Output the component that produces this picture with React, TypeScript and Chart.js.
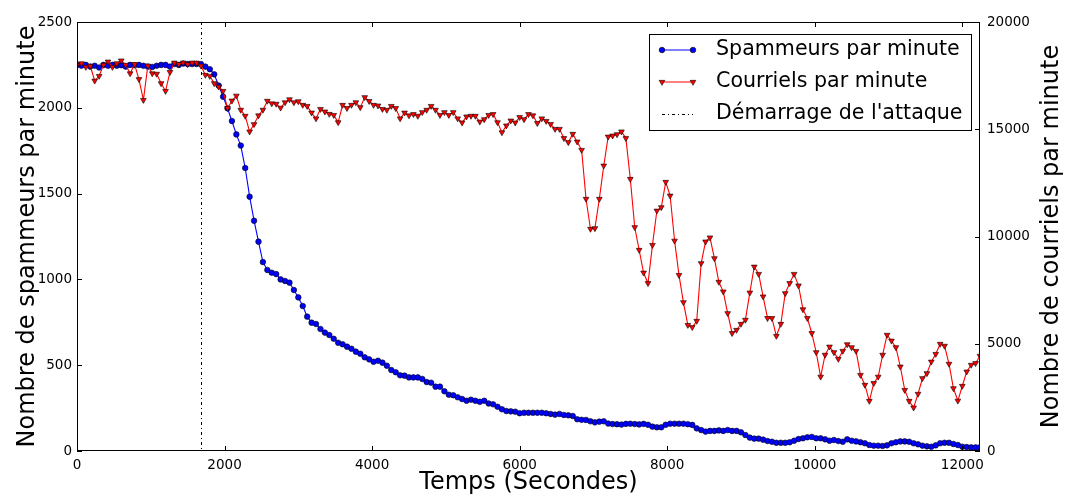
import React, { useEffect, useRef } from 'react';
import { Chart, registerables } from 'chart.js';

Chart.register(...registerables);

// ---- Data -----------------------------------------------------------------
const SAMPLE_INTERVAL_S = 60; // one sample per minute
const ATTACK_START_S = 1680;
const X_MAX = 12240;

const X_TICKS = [0, 2000, 4000, 6000, 8000, 10000, 12000];
const Y_LEFT_TICKS = [0, 500, 1000, 1500, 2000, 2500];
const Y_RIGHT_TICKS = [0, 5000, 10000, 15000, 20000];

const SERIES_LABELS = ['Spammeurs par minute', 'Courriels par minute', "Démarrage de l'attaque"];

// Spammers per minute (left axis)
const SPAMMERS = [
  2250, 2245, 2250, 2240, 2245, 2235, 2250, 2245, 2250, 2245,
  2248, 2240, 2250, 2248, 2250, 2245, 2240, 2238, 2245, 2250,
  2250, 2240, 2255, 2250, 2258, 2255, 2255, 2255, 2255, 2240,
  2225, 2195, 2130, 2065, 1997, 1923, 1845, 1780, 1649, 1482,
  1342, 1220, 1101, 1055, 1039, 1031, 1000, 991, 981, 938,
  895, 845, 783, 748, 740, 711, 690, 676, 654, 631,
  622, 608, 596, 579, 567, 546, 534, 520, 526, 515,
  497, 472, 459, 441, 439, 429, 429, 429, 420, 402,
  398, 375, 375, 348, 328, 325, 313, 303, 293, 299,
  293, 287, 293, 277, 272, 258, 243, 233, 231, 229,
  220, 223, 223, 223, 223, 223, 220, 216, 212, 216,
  210, 208, 204, 185, 182, 181, 173, 167, 171, 173,
  160, 157, 156, 154, 158, 159, 157, 155, 158, 153,
  142, 138, 138, 153, 159, 159, 159, 159, 156, 152,
  132, 122, 113, 117, 117, 120, 117, 122, 117, 117,
  109, 93, 78, 72, 72, 66, 58, 54, 48, 48,
  48, 51, 60, 70, 74, 80, 82, 74, 74, 68,
  60, 64, 58, 54, 68, 60, 56, 51, 45, 35,
  31, 31, 29, 33, 45, 51, 56, 56, 54, 45,
  39, 31, 27, 25, 33, 45, 48, 48, 41, 35,
  25, 23, 21, 21, 21,
];

// E-mails per minute (right axis)
const EMAILS = [
  18000, 18070, 17900, 17950, 17260, 17480, 18000, 18150, 17900, 18070,
  18200, 18000, 17600, 18030, 17330, 16360, 17960, 17600, 17580, 17140,
  16780, 17660, 18100, 18030, 18100, 18030, 18100, 18100, 17960, 17530,
  17480, 17140, 16980, 16780, 15980, 16330, 16560, 15900, 15620, 14890,
  15230, 15640, 15900, 16320, 16200, 16180, 16000, 16250, 16390, 16250,
  16300, 16130, 16080, 15770, 15500, 15940, 15820, 15710, 15660, 15320,
  16130, 15980, 16130, 16250, 16020, 16490, 16310, 16130, 16100, 15940,
  15900, 16080, 15980, 15500, 15770, 15640, 15700, 15620, 15790, 15900,
  16080, 15900, 15660, 15790, 15660, 15790, 15500, 15310, 15590, 15620,
  15620, 15350, 15460, 15660, 15700, 15320, 14850, 15170, 15400, 15310,
  15560, 15460, 15700, 15640, 15280, 15500, 15380, 15240, 15010, 15010,
  14580, 14390, 14780, 14420, 14030, 11750, 10350, 10380, 11750, 13300,
  14650, 14700, 14760, 14890, 14580, 12680, 10430, 9370, 8310, 7820,
  9600, 11200, 11360, 12540, 11900, 9800, 8200, 6930, 5870, 5770,
  6060, 8750, 9760, 9950, 8980, 7880, 7430, 6420, 5490, 5640,
  5920, 6110, 7380, 8590, 8250, 7200, 6190, 6190, 5360, 5920,
  7350, 7820, 8250, 7710, 6600, 6190, 5490, 4600, 3460, 4480,
  4860, 4600, 4290, 4660, 4970, 4830, 4660, 3540, 3080, 2330,
  3160, 3460, 4480, 5410, 5140, 4830, 3930, 2840, 2330, 2020,
  2660, 3390, 3620, 4160, 4520, 4990, 4900, 4060, 2920, 2340,
  3030, 3700, 4010, 4090, 4430,
];

const TIMES = SPAMMERS.map((_, i) => i * SAMPLE_INTERVAL_S);

// ---- Styles ---------------------------------------------------------------
const FONT = '"DejaVu Sans", sans-serif';
const BLUE = '#0000ff';
const RED = '#ff0000';
const DASHDOT = [3, 3, 1, 3];
const CIRCLE_R = 2.8;
const TRI_R = 3.3;

function drawCircle(ctx: CanvasRenderingContext2D, x: number, y: number, r: number) {
  ctx.beginPath();
  ctx.arc(x, y, r, 0, Math.PI * 2);
  ctx.fillStyle = BLUE;
  ctx.fill();
  ctx.lineWidth = 0.6;
  ctx.strokeStyle = '#000';
  ctx.stroke();
}

function drawTriangleDown(ctx: CanvasRenderingContext2D, x: number, y: number, r: number) {
  let rad = Math.PI;
  ctx.beginPath();
  ctx.moveTo(x + Math.sin(rad) * r, y - Math.cos(rad) * r);
  rad += (2 * Math.PI) / 3;
  ctx.lineTo(x + Math.sin(rad) * r, y - Math.cos(rad) * r);
  rad += (2 * Math.PI) / 3;
  ctx.lineTo(x + Math.sin(rad) * r, y - Math.cos(rad) * r);
  ctx.closePath();
  ctx.fillStyle = RED;
  ctx.fill();
  ctx.lineWidth = 0.6;
  ctx.strokeStyle = '#000';
  ctx.stroke();
}

const attackLinePlugin = {
  id: 'attackLine',
  beforeDatasetsDraw(chart: any) {
    const { ctx, chartArea, scales } = chart;
    const x = Math.round(scales.x.getPixelForValue(ATTACK_START_S)) + 0.5;
    ctx.save();
    ctx.strokeStyle = '#000';
    ctx.lineWidth = 1;
    ctx.setLineDash(DASHDOT);
    ctx.beginPath();
    ctx.moveTo(x, chartArea.top);
    ctx.lineTo(x, chartArea.bottom);
    ctx.stroke();
    ctx.restore();
  },
};

const framePlugin = {
  id: 'frame',
  afterDraw(chart: any) {
    const { ctx, chartArea, scales } = chart;
    const { left, right, top, bottom } = chartArea;
    const TL = 5;
    ctx.save();
    ctx.strokeStyle = '#000';
    ctx.lineWidth = 1;
    ctx.setLineDash([]);
    // frame
    ctx.strokeRect(left + 0.5, top + 0.5, right - left - 1, bottom - top - 1);
    // ticks
    ctx.beginPath();
    for (const v of X_TICKS) {
      const px = Math.round(scales.x.getPixelForValue(v)) + 0.5;
      ctx.moveTo(px, bottom);
      ctx.lineTo(px, bottom - TL);
      ctx.moveTo(px, top);
      ctx.lineTo(px, top + TL);
    }
    for (const v of Y_LEFT_TICKS) {
      const py = Math.round(scales.y.getPixelForValue(v)) + 0.5;
      ctx.moveTo(left, py);
      ctx.lineTo(left + TL, py);
    }
    for (const v of Y_RIGHT_TICKS) {
      const py = Math.round(scales.y1.getPixelForValue(v)) + 0.5;
      ctx.moveTo(right, py);
      ctx.lineTo(right - TL, py);
    }
    ctx.stroke();

    // axis titles
    ctx.fillStyle = '#000';
    ctx.font = `24px ${FONT}`;
    ctx.textAlign = 'center';
    ctx.textBaseline = 'alphabetic';
    ctx.fillText('Temps (Secondes)', (left + right) / 2, 489);
    const midY = (top + bottom) / 2;
    ctx.save();
    ctx.translate(34, midY);
    ctx.rotate(-Math.PI / 2);
    ctx.fillText('Nombre de spammeurs par minute', 0, 0);
    ctx.restore();
    ctx.save();
    ctx.translate(1058, midY);
    ctx.rotate(-Math.PI / 2);
    ctx.fillText('Nombre de courriels par minute', 0, 0);
    ctx.restore();

    // legend
    const bx = 649.5, by = 34.5, bw = 322, bh = 96;
    ctx.fillStyle = '#fff';
    ctx.fillRect(bx, by, bw, bh);
    ctx.strokeStyle = '#000';
    ctx.lineWidth = 1;
    ctx.strokeRect(bx, by, bw, bh);
    const x0 = 662, x1 = 693;
    const rows = [50, 82, 114];
    // row 1
    ctx.strokeStyle = BLUE;
    ctx.beginPath();
    ctx.moveTo(x0, rows[0]);
    ctx.lineTo(x1, rows[0]);
    ctx.stroke();
    drawCircle(ctx, x0, rows[0], CIRCLE_R);
    drawCircle(ctx, x1, rows[0], CIRCLE_R);
    // row 2
    ctx.strokeStyle = RED;
    ctx.lineWidth = 1;
    ctx.beginPath();
    ctx.moveTo(x0, rows[1]);
    ctx.lineTo(x1, rows[1]);
    ctx.stroke();
    drawTriangleDown(ctx, x0, rows[1], TRI_R);
    drawTriangleDown(ctx, x1, rows[1], TRI_R);
    // row 3
    ctx.strokeStyle = '#000';
    ctx.lineWidth = 1;
    ctx.setLineDash(DASHDOT);
    ctx.beginPath();
    ctx.moveTo(x0, rows[2] + 0.5);
    ctx.lineTo(x1, rows[2] + 0.5);
    ctx.stroke();
    ctx.setLineDash([]);
    ctx.fillStyle = '#000';
    ctx.font = `20.6px ${FONT}`;
    ctx.textAlign = 'left';
    ctx.textBaseline = 'middle';
    SERIES_LABELS.forEach((lab, i) => ctx.fillText(lab, 716, rows[i]));
    ctx.restore();
  },
};

export default function App() {
  const ref = useRef<HTMLCanvasElement | null>(null);

  useEffect(() => {
    if (!ref.current) return;
    Chart.defaults.font.family = FONT;
    const chart = new Chart(ref.current, {
      type: 'line',
      data: {
        datasets: [
          {
            label: SERIES_LABELS[1],
            data: TIMES.map((t, i) => ({ x: t, y: EMAILS[i] })),
            yAxisID: 'y1',
            borderColor: RED,
            borderWidth: 1.1,
            pointStyle: 'triangle',
            rotation: 180,
            pointRadius: TRI_R,
            pointBackgroundColor: RED,
            pointBorderColor: '#000',
            pointBorderWidth: 0.6,
            tension: 0,
            order: 1,
          },
          {
            label: SERIES_LABELS[0],
            data: TIMES.map((t, i) => ({ x: t, y: SPAMMERS[i] })),
            yAxisID: 'y',
            borderColor: BLUE,
            borderWidth: 1.1,
            pointStyle: 'circle',
            pointRadius: CIRCLE_R,
            pointBackgroundColor: BLUE,
            pointBorderColor: '#000',
            pointBorderWidth: 0.6,
            tension: 0,
            order: 2,
          },
        ],
      },
      options: {
        animation: false,
        responsive: false,
        devicePixelRatio: 1,
        layout: { padding: { top: 22, left: 0, right: 0, bottom: 0 } },
        plugins: { legend: { display: false }, tooltip: { enabled: false } },
        scales: {
          x: {
            type: 'linear',
            position: 'bottom',
            min: 0,
            max: X_MAX,
            grid: { display: false, drawTicks: false },
            border: { display: false },
            afterBuildTicks: (s: any) => {
              s.ticks = X_TICKS.map((v) => ({ value: v }));
            },
            afterFit: (s: any) => {
              s.height = 44;
            },
            ticks: {
              padding: 6,
              maxRotation: 0,
              autoSkip: false,
              color: '#000',
              font: { size: 13.5, family: FONT },
              callback: (v: any) => String(v),
            },
          },
          y: {
            type: 'linear',
            position: 'left',
            min: 0,
            max: 2500,
            grid: { display: false, drawTicks: false },
            border: { display: false },
            afterBuildTicks: (s: any) => {
              s.ticks = Y_LEFT_TICKS.map((v) => ({ value: v }));
            },
            afterFit: (s: any) => {
              s.width = 77;
            },
            ticks: {
              padding: 5,
              color: '#000',
              font: { size: 13.5, family: FONT },
              callback: (v: any) => String(v),
            },
          },
          y1: {
            type: 'linear',
            position: 'right',
            min: 0,
            max: 20000,
            grid: { display: false, drawTicks: false },
            border: { display: false },
            afterBuildTicks: (s: any) => {
              s.ticks = Y_RIGHT_TICKS.map((v) => ({ value: v }));
            },
            afterFit: (s: any) => {
              s.width = 85;
            },
            ticks: {
              padding: 7,
              color: '#000',
              font: { size: 13.5, family: FONT },
              callback: (v: any) => String(v),
            },
          },
        },
      },
      plugins: [attackLinePlugin, framePlugin],
    } as any);
    return () => chart.destroy();
  }, []);

  return (
    <div style={{ position: 'fixed', left: 0, top: 0, width: 1065, height: 495, background: '#fff' }}>
      <canvas ref={ref} width={1065} height={495} style={{ display: 'block' }} />
    </div>
  );
}
